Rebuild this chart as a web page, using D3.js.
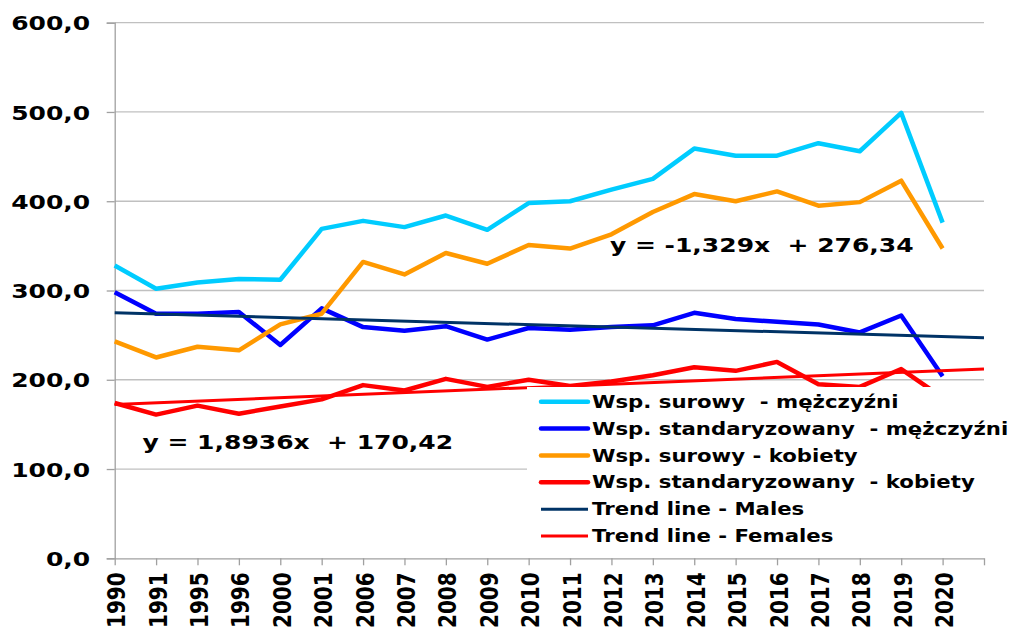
<!DOCTYPE html>
<html>
<head>
<meta charset="utf-8">
<script src="https://cdn.jsdelivr.net/npm/d3@7"></script>
<style>
  body { margin: 0; background: #fff; }
  text { font-family: Verdana, "DejaVu Sans", sans-serif; font-weight: bold; fill: #000; }
</style>
</head>
<body>
<div id="container"></div>
<script>
/* DATA */
const years = ["1990", "1991", "1995", "1996", "2000", "2001", "2006", "2007", "2008", "2009",
  "2010", "2011", "2012", "2013", "2014", "2015", "2016", "2017", "2018", "2019", "2020"];

const surowyMen = [328, 302, 309, 313, 312, 369, 378, 371, 384, 368,
  398, 400, 413, 425, 459, 451, 451, 465, 456, 499, 376];
const standMen = [298, 274, 274, 276, 239, 280, 259, 255, 260, 245,
  258, 256, 259, 261, 275, 268, 265, 262, 253, 272, 204];
const surowyWomen = [243, 225, 237, 233, 262, 274, 332, 318, 342, 330,
  351, 347, 363, 388, 408, 400, 411, 395, 399, 423, 347];
const standWomen = [174, 161, 171, 162, 170, 178, 194, 188, 201, 192,
  200, 193, 198, 205, 214, 210, 220, 195, 192, 212, 180];

// linear trend lines [slope, intercept], x = 1, 2, ...
const trendMales = [-1.329, 276.34];
const trendFemales = [1.8936, 170.42];

const yTicks = [0, 100, 200, 300, 400, 500, 600];

const seriesNames = ["Wsp. surowy  - mężczyźni", "Wsp. standaryzowany  - mężczyźni",
  "Wsp. surowy - kobiety", "Wsp. standaryzowany  - kobiety",
  "Trend line - Males", "Trend line - Females"];
const seriesColors = ["#00CCFF", "#0000FF", "#FF9900", "#FF0000", "#003366", "#FF0000"];

/* CONSTANTS */
const width = 1013, height = 628;
const margin = { top: 22.7, bottom: 69.7, left: 114.7, right: 29 };
const stretch = 1.25; // text in the picture is drawn wider than it is tall

const svg = d3.select("#container")
  .append("svg")
  .attr("width", width)
  .attr("height", height);

/* SCALES */
const nSlots = years.length + 1; // trend lines run one period past the data
const xScale = d3.scaleLinear()
  .domain([0, nSlots - 1])
  .range([margin.left, width - margin.right]);

const yScale = d3.scaleLinear()
  .domain([0, 600])
  .range([height - margin.bottom, margin.top]);

const fmt = d => d3.format(".1f")(d).replace(".", ",");

// gridlines
svg.append("g")
  .selectAll("line")
  .data(yTicks.filter(d => d > 0))
  .join("line")
  .attr("x1", margin.left)
  .attr("x2", width - margin.right)
  .attr("y1", d => yScale(d))
  .attr("y2", d => yScale(d))
  .attr("stroke", "#c0c0c0")
  .attr("stroke-width", 1.3);

// y axis
const yAxis = svg.append("g")
  .attr("transform", `translate(${margin.left},0)`)
  .call(d3.axisLeft(yScale).tickValues(yTicks).tickFormat(fmt).tickSize(8).tickPadding(0));
yAxis.selectAll("path, line").attr("stroke", "#a0a0a0").attr("stroke-width", 1.3);
yAxis.selectAll("text")
  .attr("font-size", 20)
  .attr("x", null)
  .attr("dy", "0.36em")
  .attr("transform", `translate(-24.5,0) scale(${stretch},1)`);

// x axis
const xAxis = svg.append("g")
  .attr("transform", `translate(0,${yScale(0)})`)
  .call(d3.axisBottom(xScale)
    .tickValues(d3.range(nSlots))
    .tickFormat(i => years[i] || "")
    .tickSize(7).tickSizeOuter(0));
xAxis.select("path").attr("stroke", "#a0a0a0").attr("stroke-width", 1.3);
xAxis.selectAll("line").attr("stroke", "#a0a0a0").attr("stroke-width", 1.3);
xAxis.selectAll("text")
  .attr("font-size", 20)
  .attr("y", 0)
  .attr("dy", 0)
  .attr("text-anchor", "end")
  .attr("transform", `translate(10,14) scale(${stretch},1) rotate(-90)`);

/* LINES */
const line = d3.line()
  .x((d, i) => xScale(i))
  .y(d => yScale(d));

const dataSeries = [surowyMen, standMen, surowyWomen, standWomen];
dataSeries.forEach((s, k) => {
  svg.append("path")
    .datum(s)
    .attr("fill", "none")
    .attr("stroke", seriesColors[k])
    .attr("stroke-width", 4.5)
    .attr("stroke-linejoin", "round")
    .attr("d", line);
});

const trendLine = d3.line()
  .x(d => xScale(d[0]))
  .y(d => yScale(d[1]));

[trendMales, trendFemales].forEach((t, k) => {
  const ends = [0, nSlots - 1].map(i => [i, t[0] * (i + 1) + t[1]]);
  svg.append("path")
    .datum(ends)
    .attr("fill", "none")
    .attr("stroke", seriesColors[4 + k])
    .attr("stroke-width", 3)
    .attr("d", trendLine);
});

/* EQUATIONS */
const num = (v, p) => d3.format(p)(v).replace(".", ",").replace("\u2212", "-");
const eqText = t => "y = " + num(t[0], t[0] < 0 ? ".3f" : ".4f") + "x  + " + num(t[1], ".2f");

svg.append("text")
  .attr("font-size", 20)
  .style("white-space", "pre")
  .attr("transform", `translate(610,251.5) scale(${stretch},1)`)
  .text(eqText(trendMales));

svg.append("text")
  .attr("font-size", 20)
  .style("white-space", "pre")
  .attr("transform", `translate(142.5,449.3) scale(${stretch},1)`)
  .text(eqText(trendFemales));

/* LEGEND */
const legend = svg.append("g");
legend.append("rect")
  .attr("x", 527).attr("y", 387)
  .attr("width", 486).attr("height", 163)
  .attr("fill", "#fff");

const rowY = d3.scaleLinear().domain([0, 5]).range([401.7, 536]);
const items = legend.selectAll("g.item")
  .data(seriesNames)
  .join("g")
  .attr("class", "item")
  .attr("transform", (d, i) => `translate(0,${rowY(i)})`);

items.append("line")
  .attr("x1", 541).attr("x2", 588)
  .attr("stroke", (d, i) => seriesColors[i])
  .attr("stroke-width", (d, i) => i < 4 ? 4.5 : 3)
  .attr("stroke-linecap", (d, i) => i < 4 ? "round" : "butt");

items.append("text")
  .attr("font-size", 17)
  .attr("dy", "0.36em")
  .attr("transform", `translate(592,0) scale(${stretch},1)`)
  .style("white-space", "pre")
  .text(d => d);
</script>
</body>
</html>
